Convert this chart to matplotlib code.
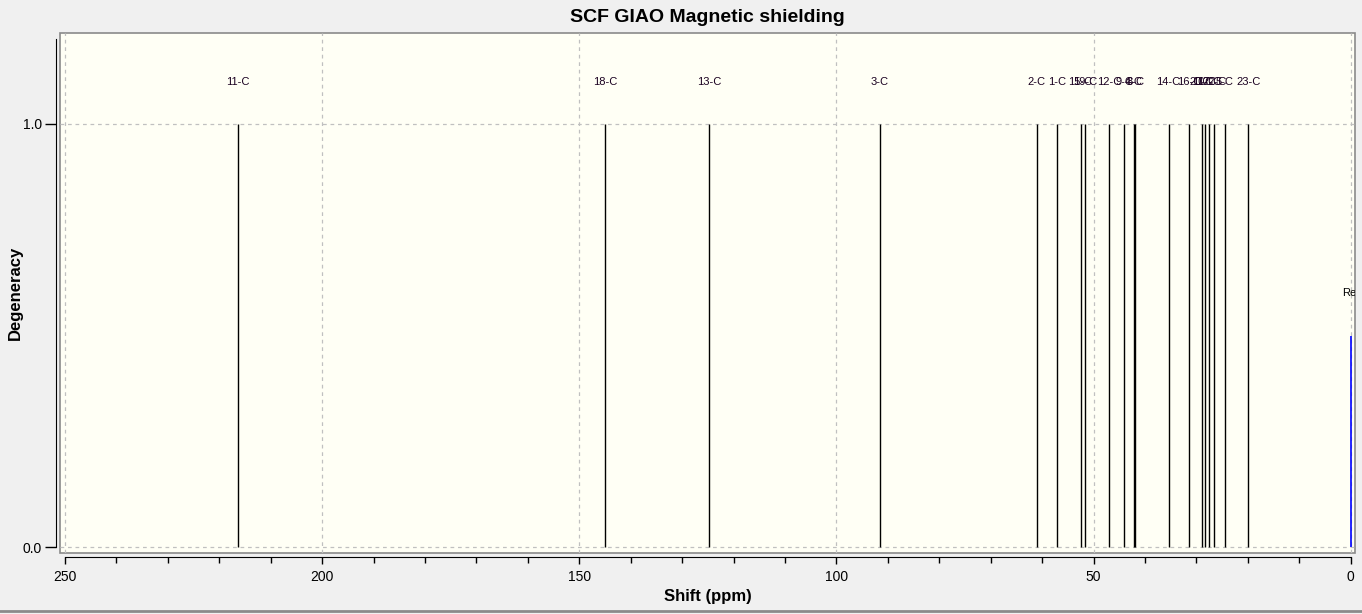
import matplotlib.pyplot as plt
from matplotlib.lines import Line2D
import numpy as np

plt.rcParams['font.family'] = ['Liberation Sans', 'DejaVu Sans']

# shifts (ppm) and atom labels
shifts = [216.4, 145.0, 124.8, 91.5, 61.0, 57.1, 52.5, 51.6, 46.9, 44.0,
          42.1, 41.9, 35.4, 31.35, 28.9, 28.4, 27.5, 26.5, 24.5, 19.9]
labels = ['11-C', '18-C', '13-C', '3-C', '2-C', '1-C', '15-C', '19-C', '12-C', '9-C',
          '4-C', '8-C', '14-C', '16-C', '20-C', '10-C', '17-C', '22-C', '5-C', '23-C']
degeneracy = [1.0] * len(shifts)

ref_shift = 0.0
ref_height = 0.5
ref_label = 'Reference'

W, H = 1362, 614
fig = plt.figure(figsize=(W / 100, H / 100), dpi=100, facecolor='#f0f0f0')
ax = fig.add_axes([60 / W, 1 - 553 / H, (1355 - 60) / W, (553 - 33) / H])
ax.set_facecolor('#fffff5')

ax.vlines(shifts, 0, degeneracy, color='black', lw=1.0)
ax.vlines([ref_shift], 0, [ref_height], color='#0000ff', lw=1.2)
for s, lab, d in zip(shifts, labels, degeneracy):
    ax.text(s, d + 0.10, lab, ha='center', va='center', fontsize=8, color='#1a0020',
            clip_on=True)
# reference label sits mostly past the frame and gets clipped
ax.text(ref_shift + 1.6, ref_height + 0.10, ref_label, ha='left', va='center',
        fontsize=8, color='black', clip_on=True)

ax.set_xlim(250.97, -0.85)
ax.set_ylim(-0.014, 1.215)
ax.set_xticks(np.arange(250, -1, -50))
ax.set_xticks(np.arange(250, -1, -10), minor=True)
ax.set_yticks([0.0, 1.0])
ax.set_yticklabels(['0.0', '1.0'])
ax.grid(True, which='major', color='#c0c0c0', ls=(0, (3, 3)), lw=0.9)

# grey frame, black offset axis lines
for side in ['top', 'right']:
    ax.spines[side].set_visible(False)
ax.patch.set_edgecolor('#8a8a8a')
ax.patch.set_linewidth(1.2)
ax.spines['left'].set_position(('outward', 3))
ax.spines['bottom'].set_position(('outward', 3))
ax.spines['left'].set_bounds(0, 1.2)
ax.spines['bottom'].set_bounds(0, 250)
ax.tick_params(axis='x', which='major', direction='out', length=5, width=1.0,
               labelsize=10, pad=4)
ax.tick_params(axis='x', which='minor', direction='out', length=4, width=1.0)
ax.tick_params(axis='y', direction='out', length=8, width=1.0, labelsize=10, pad=2)

ax.set_title('SCF GIAO Magnetic shielding', fontsize=14, fontweight='bold', pad=8)
ax.set_xlabel('Shift (ppm)', fontsize=12, fontweight='bold', labelpad=4)
ax.set_ylabel('Degeneracy', fontsize=12, fontweight='bold')
ax.yaxis.set_label_coords(-0.029, 0.5)

# window border line at the bottom
fig.add_artist(Line2D([0, 1], [1 - 611 / H, 1 - 611 / H], transform=fig.transFigure,
                      color='#8a8a8a', lw=2))

fig.savefig('out.png', dpi=100, facecolor=fig.get_facecolor())
